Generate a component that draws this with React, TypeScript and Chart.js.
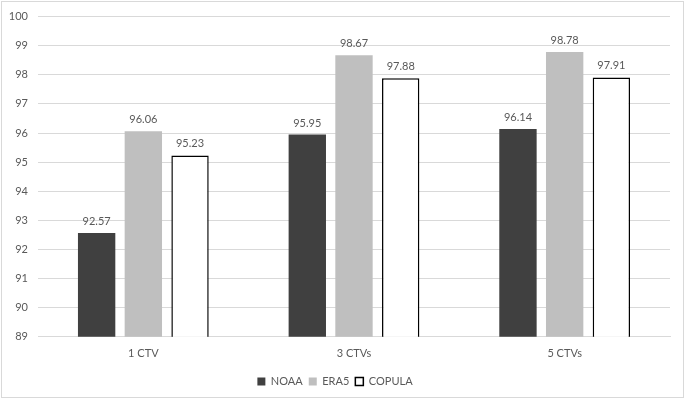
import React, { useEffect, useRef } from "react";
import { Chart, registerables } from "chart.js";

Chart.register(...registerables);

const categories = ["1 CTV", "3 CTVs", "5 CTVs"];
const noaa = [92.57, 95.95, 96.14];
const era5 = [96.06, 98.67, 98.78];
const copula = [95.23, 97.88, 97.91];
const yMin = 89;
const yMax = 100;

const FONT = "Lato, 'Open Sans', sans-serif";
const TEXT = "#595959";

const valueLabels = {
  id: "valueLabels",
  afterDatasetsDraw(chart: any) {
    const ctx = chart.ctx;
    ctx.save();
    ctx.font = `11px ${FONT}`;
    ctx.fillStyle = TEXT;
    ctx.textAlign = "center";
    ctx.textBaseline = "bottom";
    chart.data.datasets.forEach((ds: any, i: number) => {
      const meta = chart.getDatasetMeta(i);
      meta.data.forEach((bar: any, j: number) => {
        ctx.fillText(Number(ds.data[j]).toFixed(2), bar.x, bar.y - 6);
      });
    });
    ctx.restore();
  },
};

const frame = {
  id: "frame",
  beforeDraw(chart: any) {
    const ctx = chart.ctx;
    ctx.save();
    ctx.fillStyle = "#ffffff";
    ctx.fillRect(0, 0, chart.width, chart.height);
    ctx.strokeStyle = "#d9d9d9";
    ctx.lineWidth = 1;
    ctx.strokeRect(1.5, 1.5, 682, 396);
    ctx.restore();
  },
};

export default function App() {
  const ref = useRef<HTMLCanvasElement>(null);
  useEffect(() => {
    if (!ref.current) return;
    const chart = new Chart(ref.current, {
      type: "bar",
      data: {
        labels: categories,
        datasets: [
          {
            label: "NOAA",
            data: noaa,
            backgroundColor: "#404040",
            borderColor: "#404040",
            borderWidth: 0,
          },
          {
            label: "ERA5",
            data: era5,
            backgroundColor: "#bfbfbf",
            borderColor: "#bfbfbf",
            borderWidth: 0,
          },
          {
            label: "COPULA",
            data: copula,
            backgroundColor: "#ffffff",
            borderColor: "#000000",
            borderWidth: 1.5,
          },
        ],
      },
      options: {
        animation: false,
        responsive: false,
        maintainAspectRatio: false,
        datasets: {
          bar: {
            categoryPercentage: 0.665,
            barPercentage: 0.8,
          },
        },
        layout: { padding: { top: 15, right: 15, left: 0, bottom: 3 } },
        plugins: {
          legend: {
            position: "bottom",
            labels: {
              boxWidth: 8,
              boxHeight: 8,
              color: TEXT,
              font: { family: FONT, size: 11 },
              padding: 6,
            },
          },
          tooltip: { enabled: false },
        },
        scales: {
          x: {
            grid: { display: false, drawTicks: false },
            border: { color: "#d9d9d9" },
            ticks: { color: TEXT, font: { family: FONT, size: 11 }, padding: 10 },
          },
          y: {
            min: yMin,
            max: yMax,
            afterFit(scale: any) {
              scale.width = 38;
            },
            ticks: {
              stepSize: 1,
              color: TEXT,
              font: { family: FONT, size: 11 },
              padding: 10,
            },
            grid: { color: "#d9d9d9", drawTicks: false },
            border: { display: false },
          },
        },
      },
      plugins: [frame, valueLabels],
    });
    return () => chart.destroy();
  }, []);
  return (
    <div style={{ position: "absolute", left: 0, top: 0, width: 685, height: 400 }}>
      <canvas ref={ref} width={685} height={400} />
    </div>
  );
}
